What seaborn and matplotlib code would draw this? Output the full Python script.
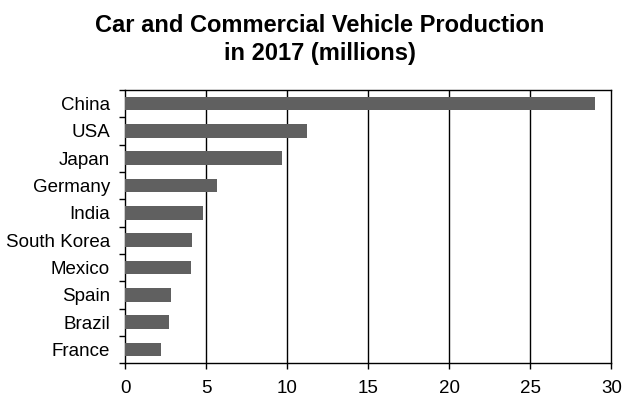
import matplotlib
matplotlib.use("Agg")
import matplotlib.pyplot as plt
import seaborn as sns
import pandas as pd
import numpy as np

countries = ["China", "USA", "Japan", "Germany", "India", "South Korea",
             "Mexico", "Spain", "Brazil", "France"]
production = [29.0, 11.2, 9.7, 5.65, 4.8, 4.1, 4.05, 2.8, 2.7, 2.2]
x_ticks = [0, 5, 10, 15, 20, 25, 30]
title = "Car and Commercial Vehicle Production\nin 2017 (millions)"

sns.set_theme(style="white")
plt.rcParams["font.family"] = ["Liberation Sans", "DejaVu Sans"]

df = pd.DataFrame({"country": countries, "production": production})

fig = plt.figure(figsize=(6.39, 4.19), dpi=100)
ax = fig.add_axes([0.196, 0.1329, 0.9567 - 0.196, 0.7852 - 0.1329])

sns.barplot(data=df, y="country", x="production", orient="h",
            color="#606060", width=0.5, saturation=1, linewidth=0,
            ax=ax, zorder=3)

ax.set_xlim(0, 30)
ax.set_ylim(len(countries) - 0.5, -0.5)
ax.set_xticks(x_ticks)
ax.set_xticklabels([str(t) for t in x_ticks])
ax.set_xlabel("")
ax.set_ylabel("")

for t in x_ticks[1:-1]:
    ax.axvline(t, color="black", lw=1.0, zorder=1)

for s in ax.spines.values():
    s.set_visible(True)
    s.set_color("black")
    s.set_linewidth(1.0)

ax.set_yticks(np.arange(len(countries)))
ax.set_yticklabels(countries)
ax.set_yticks(np.arange(len(countries) + 1) - 0.5, minor=True)
ax.tick_params(axis="y", which="major", length=0, pad=11, labelsize=13.5,
               labelcolor="black")
ax.tick_params(axis="y", which="minor", left=True, length=4.5, width=1,
               color="black", direction="out")
ax.tick_params(axis="x", which="major", bottom=True, length=4.5, width=1,
               color="black", direction="out", pad=7.5, labelsize=13.5,
               labelcolor="black")

fig.text(0.5, 0.966, title, ha="center", va="top", fontsize=17,
         fontweight="bold", linespacing=1.25, color="black")

fig.savefig("out.png", dpi=100)
